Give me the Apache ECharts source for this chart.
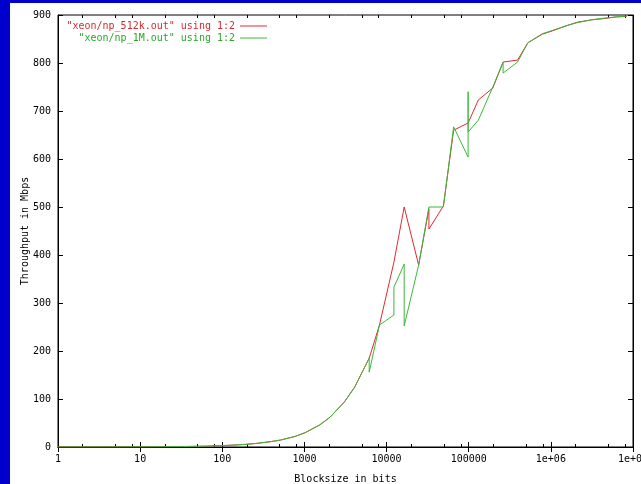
<!DOCTYPE html>
<html>
<head>
<meta charset="utf-8">
<script src="https://cdn.jsdelivr.net/npm/echarts@6/dist/echarts.min.js"></script>
<style>
html,body{margin:0;padding:0;width:641px;height:484px;background:#0000cc;overflow:hidden;}
#chart{position:absolute;left:10px;top:3px;width:631px;height:481px;background:#ffffff;}
</style>
</head>
<body>
<div id="chart"></div>
<script>
// Data (blocksize in bits, throughput in Mbps)
const seriesNames = ['"xeon/np_512k.out" using 1:2', '"xeon/np_1M.out" using 1:2'];

const sizes512k = [1,2,3,4,6,8,12,16,24,32,48,64,96,128,192,256,384,512,768,1024,
  1536,2048,3072,4096,6144,8192,12288,16384,24576,32765,32768,49152,65536,98304,131072,
  196608,262144,393216,524288,786432,1048576,1572864,2097152,3145728,4194304,6291456,8388608];
const tput512k = [0.03,0.06,0.09,0.12,0.17,0.23,0.35,0.46,0.7,0.92,1.4,1.8,2.8,3.7,5.5,7.3,11,14.5,22,30,
  46,62,94,125,185,254,385,500,379,496,454,502,660,675,723,
  748,802,806,842,860,867,878,885,890,892,896,897];

const sizes1M = [1,2,3,4,6,8,12,16,24,32,48,64,96,128,192,256,384,512,768,1024,
  1536,2048,3072,4096,6141,6144,8192,12285,12288,16381,16384,24576,32768,49152,65536,
  98301,98304,98307,131072,196608,262141,262144,393216,524288,786432,1048576,1572864,
  2097152,3145728,4194304,6291456,8388608];
const tput1M = [0.03,0.06,0.09,0.12,0.17,0.23,0.35,0.46,0.7,0.92,1.4,1.8,2.8,3.7,5.5,7.3,11,14.5,22,30,
  46,62,94,125,185,156,254,275,333,381,252,379,500,500,667,
  604,740,656,681,750,802,779,802,842,861,868,878,
  884,890,893,896,898];

const xMajorTicks = [1,10,100,1000,10000,100000,1000000,10000000];
const xMajorLabels = ['1','10','100','1000','10000','100000','1e+06','1e+07'];
const xMinorTicks = [2,5,8,20,50,80,200,500,800,2000,5000,8000,20000,50000,80000,
  200000,500000,800000,2000000,5000000,8000000];
const yMin = 0, yMax = 900, yStep = 100;

const FONT = '"DejaVu Sans Mono", "Liberation Mono", monospace';
const RED = '#e02a32';
const GREEN = '#3cb83c';

function zip(xs, ys){ return xs.map((x,i)=>[x, ys[i]]); }

const chart = echarts.init(document.getElementById('chart'), null, {renderer:'canvas'});

const baseX = {
  type:'log', logBase:10, min:1, max:10000000,
  splitLine:{show:false},
  axisLine:{show:true, lineStyle:{color:'#000', width:1}}
};

chart.setOption({
  animation:false,
  backgroundColor:'#ffffff',
  textStyle:{fontFamily:FONT},
  grid:{left:48, top:12, right:8, bottom:37, show:true, borderColor:'#000', borderWidth:1,
        backgroundColor:'transparent', containLabel:false, outerBoundsMode:'none'},
  legend:[
    {data:[seriesNames[0]], right:374, top:18, padding:0, align:'right', icon:'rect',
     itemWidth:27, itemHeight:1, itemGap:0,
     textStyle:{color:'#d42a30', fontFamily:FONT, fontSize:10}},
    {data:[seriesNames[1]], right:374, top:30, padding:0, align:'right', icon:'rect',
     itemWidth:27, itemHeight:1, itemGap:0,
     textStyle:{color:'#2aa82a', fontFamily:FONT, fontSize:10}}
  ],
  xAxis:[
    Object.assign({}, baseX, {
      position:'bottom',
      name:'Blocksize in bits', nameLocation:'middle', nameGap:27, nameMoveOverlap:false,
      nameTextStyle:{color:'#000', fontFamily:FONT, fontSize:10},
      axisTick:{show:true, inside:true, length:5, lineStyle:{color:'#000'}, customValues:xMajorTicks},
      axisLabel:{show:true, color:'#000', fontFamily:FONT, fontSize:10, margin:7,
        customValues:xMajorTicks, hideOverlap:false,
        formatter:function(v){ const i = xMajorTicks.findIndex(t=>Math.abs(t-v)/t<1e-6); return i>=0?xMajorLabels[i]:''; }}
    }),
    Object.assign({}, baseX, {
      position:'top',
      axisTick:{show:true, inside:true, length:5, lineStyle:{color:'#000'}, customValues:xMajorTicks},
      axisLabel:{show:false}
    }),
    Object.assign({}, baseX, {
      position:'bottom', axisLine:{show:false},
      axisTick:{show:true, inside:true, length:3, lineStyle:{color:'#000'}, customValues:xMinorTicks},
      axisLabel:{show:false}
    }),
    Object.assign({}, baseX, {
      position:'top', axisLine:{show:false},
      axisTick:{show:true, inside:true, length:3, lineStyle:{color:'#000'}, customValues:xMinorTicks},
      axisLabel:{show:false}
    })
  ],
  yAxis:[
    {type:'value', position:'left', min:yMin, max:yMax, interval:yStep,
     name:'Throughput in Mbps', nameLocation:'middle', nameGap:28, nameRotate:90, nameMoveOverlap:false,
     nameTextStyle:{color:'#000', fontFamily:FONT, fontSize:10},
     splitLine:{show:false},
     axisLine:{show:true, lineStyle:{color:'#000'}},
     axisTick:{show:true, inside:true, length:5, lineStyle:{color:'#000'}},
     axisLabel:{color:'#000', fontFamily:FONT, fontSize:10, margin:7}},
    {type:'value', position:'right', min:yMin, max:yMax, interval:yStep,
     splitLine:{show:false},
     axisLine:{show:true, lineStyle:{color:'#000'}},
     axisTick:{show:true, inside:true, length:5, lineStyle:{color:'#000'}},
     axisLabel:{show:false}}
  ],
  series:[
    {name:seriesNames[0], type:'line', xAxisIndex:0, yAxisIndex:0, data:zip(sizes512k, tput512k),
     showSymbol:false, symbol:'none', smooth:false, color:RED, lineStyle:{color:RED, width:1}, z:2},
    {name:seriesNames[1], type:'line', xAxisIndex:0, yAxisIndex:0, data:zip(sizes1M, tput1M),
     showSymbol:false, symbol:'none', smooth:false, color:GREEN, lineStyle:{color:GREEN, width:1}, z:3}
  ]
});
</script>
</body>
</html>
